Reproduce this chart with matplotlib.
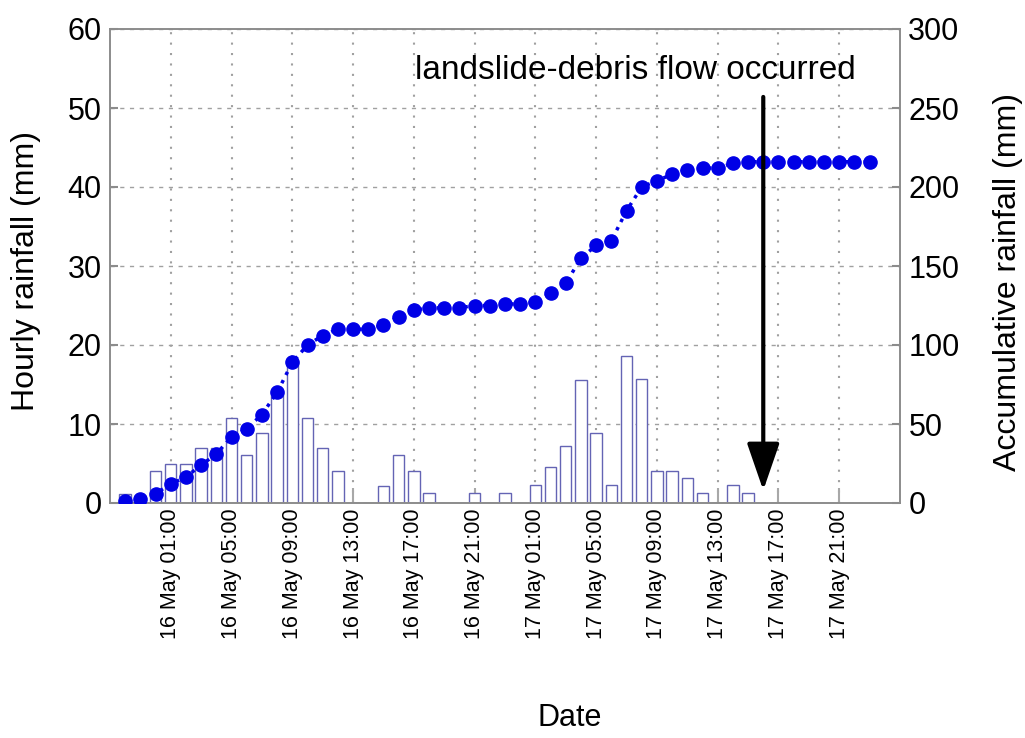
import numpy as np
import matplotlib
matplotlib.use('Agg')
import matplotlib.pyplot as plt

plt.rcParams['font.family'] = ['Liberation Sans', 'DejaVu Sans']

# hours counted from 16 May 00:00
bar_hours = list(range(-2, 40))
hourly_rain = [1.2, 0, 4.0, 5.0, 5.0, 7.0, 7.0, 10.8, 6.1, 8.8, 14.0, 17.8,
               10.8, 7.0, 4.0, 0, 0, 2.1, 6.1, 4.0, 1.3, 0, 0, 1.3, 0, 1.3,
               0, 2.3, 4.5, 7.2, 15.6, 8.9, 2.3, 18.6, 15.7, 4.0, 4.0, 3.2,
               1.3, 0, 2.3, 1.3]

acc_hours = list(range(-2, 48))
acc_rain = [1, 2.5, 6, 12, 16.5, 24, 31, 42, 47, 56, 70, 89, 100, 106, 110,
            110, 110, 112.5, 118, 122, 123.5, 123.5, 123.5, 125, 125, 126,
            126, 127, 133, 139, 155, 163, 166, 185, 200, 204, 208, 211, 212,
            212, 215, 216, 216, 216, 216, 216, 216, 216, 216, 216]

tick_hours = [1, 5, 9, 13, 17, 21, 25, 29, 33, 37, 41, 45]
tick_labels = ['16 May 01:00', '16 May 05:00', '16 May 09:00', '16 May 13:00',
               '16 May 17:00', '16 May 21:00', '17 May 01:00', '17 May 05:00',
               '17 May 09:00', '17 May 13:00', '17 May 17:00', '17 May 21:00']

event_hour = 40
event_text = 'landslide-debris flow occurred'

frame_gray = '#8c8c8c'

fig = plt.figure(figsize=(10.25, 7.38), dpi=100)
ax = fig.add_axes([110 / 1025, 1 - 503 / 738, 790 / 1025, 474 / 738])
ax2 = ax.twinx()

ax.bar(bar_hours, hourly_rain, width=0.75, facecolor='white',
       edgecolor='#6464b4', linewidth=1.0, zorder=2)
ax.set_axisbelow(True)
ax.grid(True, axis='y', linestyle=(0, (3, 4)), color='#a0a0a0', linewidth=1.0)
ax.grid(True, axis='x', linestyle=(0, (1, 4)), color='#a0a0a0', linewidth=1.5)

ax.set_xlim(-3, 49)
ax.set_ylim(0, 60)
ax.set_yticks(range(0, 61, 10))
ax.set_xticks(tick_hours)
ax.set_xticklabels(tick_labels, rotation=90, fontsize=15.5)
ax.tick_params(axis='x', direction='in', length=11, width=1.5, color='#a8a8a8', pad=4)
ax.tick_params(axis='y', direction='in', length=6, width=1.5, color=frame_gray,
               labelsize=22, pad=6)
ax.set_ylabel('Hourly rainfall (mm)', fontsize=23)
ax.yaxis.set_label_coords(-0.087, 0.49)

ax2.plot(acc_hours, acc_rain, linestyle=':', linewidth=2.5, color='#0000e6',
         marker='o', markersize=9.5, zorder=3)
ax2.set_ylim(0, 300)
ax2.set_yticks(range(0, 301, 50))
ax2.tick_params(axis='y', direction='in', length=6, width=1.5, color=frame_gray,
                labelsize=22, pad=6)
ax2.set_ylabel('Accumulative rainfall (mm)', fontsize=23)
ax2.yaxis.set_label_coords(1.118, 0.466)

for a in (ax, ax2):
    for s in a.spines.values():
        s.set_color(frame_gray)
        s.set_linewidth(1.2)

ax2.annotate('', xy=(event_hour, 8), xytext=(event_hour, 257),
             arrowprops=dict(arrowstyle='-|>,head_length=1.45,head_width=0.5',
                             mutation_scale=20, color='black', lw=3,
                             shrinkA=0, shrinkB=0))
ax2.text(31.6, 274, event_text, fontsize=24, ha='center', va='center')

fig.text(570 / 1025, 1 - 718 / 738, 'Date', fontsize=22, ha='center', va='center')

fig.savefig('out.png', dpi=100)
